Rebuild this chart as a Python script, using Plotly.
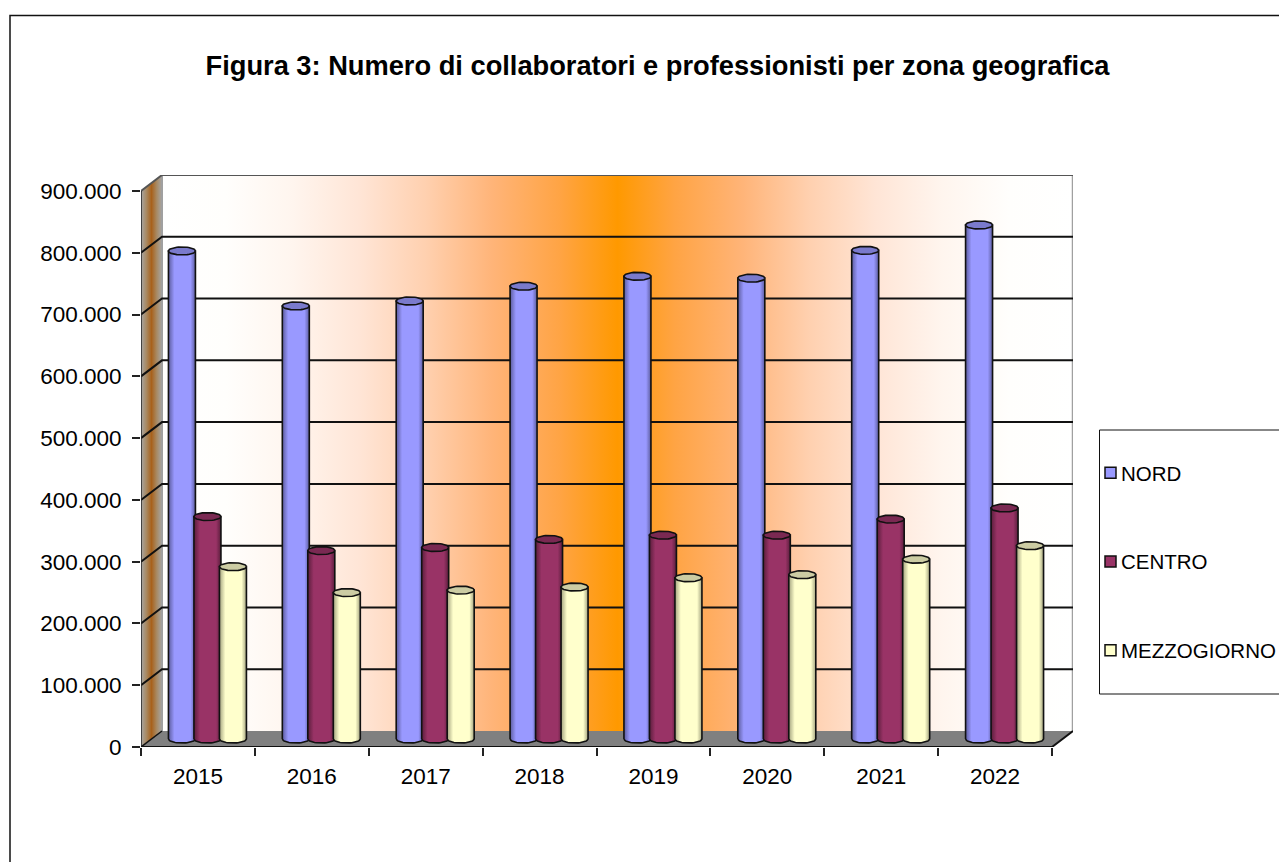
import math
import plotly.graph_objects as go

# ---- data ----
YEARS = ["2015", "2016", "2017", "2018", "2019", "2020", "2021", "2022"]
NORD = [790000, 701000, 709000, 733000, 749000, 746000, 791000, 832000]
CENTRO = [360000, 305000, 310000, 323000, 330000, 330000, 356000, 374000]
MEZZOGIORNO = [279000, 237000, 241000, 246000, 261000, 266000, 291000, 313000]
TITLE = "Figura 3: Numero di collaboratori e professionisti per zona geografica"
GRID_VALUES = [100000, 200000, 300000, 400000, 500000, 600000, 700000, 800000, 900000]
AXIS_MAX = 900000

# ---- layout constants (pixels) ----
W, H = 1279, 862
L, R, T, B = 141, 1073, 175, 747          # plot area in page pixels
FRONT_W = 911.0                            # width of the front floor edge
DEPTH_X, DEPTH_Y = 21.0, 16.0              # 3-D offset of the back wall
PX_Y = 556.0 / AXIS_MAX                    # pixels per value unit
PX_X = FRONT_W / len(YEARS)                # pixels per category
DX = DEPTH_X / PX_X                        # depth in x-axis units
DY = DEPTH_Y / PX_Y                        # depth in y-axis units
XMIN, XMAX = -0.5, len(YEARS) - 0.5 + DX
YTOP = (B - T) / PX_Y


def px(x):
    return (x - L) / (R - L)


def py(y):
    return (B - y) / (B - T)


WALL_STOPS = [[0, "#FFFFFF"], [0.07, "#FFFEFC"], [0.144, "#FFF5EE"], [0.217, "#FFE5D6"],
              [0.29, "#FFD0AF"], [0.363, "#FFB478"], [0.437, "#FFA444"], [0.5, "#FF9900"],
              [0.563, "#FFA444"], [0.637, "#FFB478"], [0.71, "#FFD0AF"], [0.783, "#FFE5D6"],
              [0.856, "#FFF5EE"], [0.93, "#FFFEFC"], [1, "#FFFFFF"]]
SIDE_STOPS = [[0, "#A6A6A6"], [0.25, "#A88A64"], [0.5, "#A8611B"], [0.75, "#A88A64"], [1, "#A6A6A6"]]

SERIES = [
    ("NORD", NORD, "#9999FF", "#5C5C9E", "#7A7ACC"),
    ("CENTRO", CENTRO, "#993366", "#5A1E3C", "#7A2952"),
    ("MEZZOGIORNO", MEZZOGIORNO, "#FFFFCC", "#A3A37F", "#CCCCA3"),
]
CYL_W = 27.0 / PX_X
CYL_STEP = 25.5 / PX_X
CYL_SHIFT = 9.5 / PX_X
ELL_H = 4.0 / PX_Y
BASE = 8.0 / PX_Y

fig = go.Figure()


def poly(xs, ys, **kw):
    fig.add_trace(go.Scatter(x=xs, y=ys, mode="lines", showlegend=False, hoverinfo="skip", **kw))


# back wall
poly([XMIN + DX, XMAX, XMAX, XMIN + DX, XMIN + DX], [DY, DY, AXIS_MAX + DY, AXIS_MAX + DY, DY],
     fill="toself", line=dict(color="rgba(0,0,0,0)", width=0),
     fillgradient=dict(type="horizontal", colorscale=WALL_STOPS))
# left side wall
poly([XMIN, XMIN + DX, XMIN + DX, XMIN, XMIN], [0, DY, AXIS_MAX + DY, AXIS_MAX, 0],
     fill="toself", line=dict(color="rgba(0,0,0,0)", width=0),
     fillgradient=dict(type="horizontal", colorscale=SIDE_STOPS))
# floor
poly([XMIN, XMAX - DX, XMAX, XMIN + DX, XMIN], [0, 0, DY, DY, 0],
     fill="toself", fillcolor="#808080", line=dict(color="rgba(0,0,0,0)", width=0))
# wall edges
poly([XMIN + DX, XMIN + DX], [DY, AXIS_MAX + DY], line=dict(color="#A0A0A0", width=2))
poly([XMAX, XMAX], [DY, AXIS_MAX + DY], line=dict(color="#A0A0A0", width=2.5))
# grid lines, running over the side wall and the back wall
for v in GRID_VALUES:
    c = "#555555" if v == AXIS_MAX else "#111111"
    poly([XMIN, XMIN + DX, XMAX], [v, v + DY, v + DY], line=dict(color=c, width=2))
# axis edges
poly([XMIN, XMIN], [0, AXIS_MAX], line=dict(color="#222222", width=1.5))
poly([XMIN, XMAX - DX, XMAX], [0, 0, DY], line=dict(color="#111111", width=2))
poly([XMIN, XMIN + DX], [0, DY], line=dict(color="#111111", width=1.5))

# cylinders
for k, (name, values, mid, edge, top) in enumerate(SERIES):
    stops = [[0, edge], [0.22, mid], [0.5, mid], [0.82, mid], [1, edge]]
    for i, v in enumerate(values):
        cx = i + CYL_SHIFT + (k - 1) * CYL_STEP
        h = v + BASE
        t = [j * math.pi / 24 for j in range(25)]
        bx = [cx - CYL_W / 2 * math.cos(a) for a in t]
        by = [BASE - ELL_H * math.sin(a) for a in t]
        xs = bx + [cx + CYL_W / 2, cx - CYL_W / 2, cx - CYL_W / 2]
        ys = by + [h, h, BASE]
        poly(xs, ys, fill="toself", line=dict(color="#111111", width=1.6),
             fillgradient=dict(type="horizontal", colorscale=stops))
        t2 = [j * math.pi / 24 for j in range(49)]
        poly([cx + CYL_W / 2 * math.cos(a) for a in t2],
             [h + ELL_H * math.sin(a) for a in t2],
             fill="toself", fillcolor=top, line=dict(color="#111111", width=1.6))

# legend entries
for name, values, mid, edge, top in SERIES:
    fig.add_trace(go.Scatter(x=[None], y=[None], mode="markers", name=name, legendgroup=name,
                             marker=dict(symbol="square", size=11, color=mid,
                                         line=dict(color="#111111", width=1.5))))

# carrier for the category labels
fig.add_trace(go.Scatter(x=[None], y=[None], xaxis="x2", showlegend=False, hoverinfo="skip"))

FONT = "Liberation Sans, Arial, sans-serif"
fig.update_layout(
    width=W, height=H,
    margin=dict(l=L, r=W - R, t=T, b=H - B, autoexpand=False),
    paper_bgcolor="white", plot_bgcolor="rgba(0,0,0,0)",
    separators=",.",
    font=dict(family=FONT, size=22, color="#000000"),
    title=dict(text="<b>" + TITLE + "</b>", x=657.5 / W, xanchor="center", xref="container",
               y=1 - 65 / H, yanchor="middle", font=dict(family=FONT, size=27.25, color="#000000")),
    xaxis=dict(range=[XMIN, XMAX], tickmode="array",
               tickvals=[i - 0.5 for i in range(len(YEARS) + 1)], ticktext=[""] * (len(YEARS) + 1),
               ticks="outside", ticklen=8, tickwidth=1.5, tickcolor="#222222",
               showgrid=False, zeroline=False, showline=False),
    xaxis2=dict(range=[XMIN, XMAX], overlaying="x", side="bottom", anchor="y", tickmode="array",
                tickvals=list(range(len(YEARS))), ticktext=YEARS, ticks="", ticklabelstandoff=13,
                tickfont=dict(size=22.5), showgrid=False, zeroline=False, showline=False),
    yaxis=dict(range=[0, YTOP], tickmode="array",
               tickvals=[0] + GRID_VALUES, tickformat=",d",
               ticks="outside", ticklen=8, tickwidth=1.5, tickcolor="#222222",
               ticklabelstandoff=6, tickfont=dict(size=22.5),
               showgrid=False, zeroline=False, showline=False),
    legend=dict(x=px(1081), y=py(453), xanchor="left", yanchor="top", tracegroupgap=59,
                bgcolor="rgba(0,0,0,0)", borderwidth=0, itemwidth=30,
                font=dict(family=FONT, size=20.5, color="#000000")),
    shapes=[
        dict(type="rect", xref="paper", yref="paper", x0=px(10), x1=px(1400), y0=py(15.5), y1=py(1000),
             line=dict(color="#111111", width=1.5), fillcolor="rgba(0,0,0,0)", layer="below"),
        dict(type="rect", xref="paper", yref="paper", x0=px(1099.5), x1=px(1400), y0=py(430), y1=py(694),
             line=dict(color="#111111", width=1), fillcolor="white", layer="below"),
    ],
)
POST = """
document.body.style.margin='0';document.body.style.overflow='hidden';
setTimeout(function(){
  document.querySelectorAll('.legend .legendsymbols').forEach(function(g){
    g.setAttribute('transform','translate(9.5,0)');
  });
},0);
"""
fig.write_html("out.html", config={"displayModeBar": False}, post_script=POST)
